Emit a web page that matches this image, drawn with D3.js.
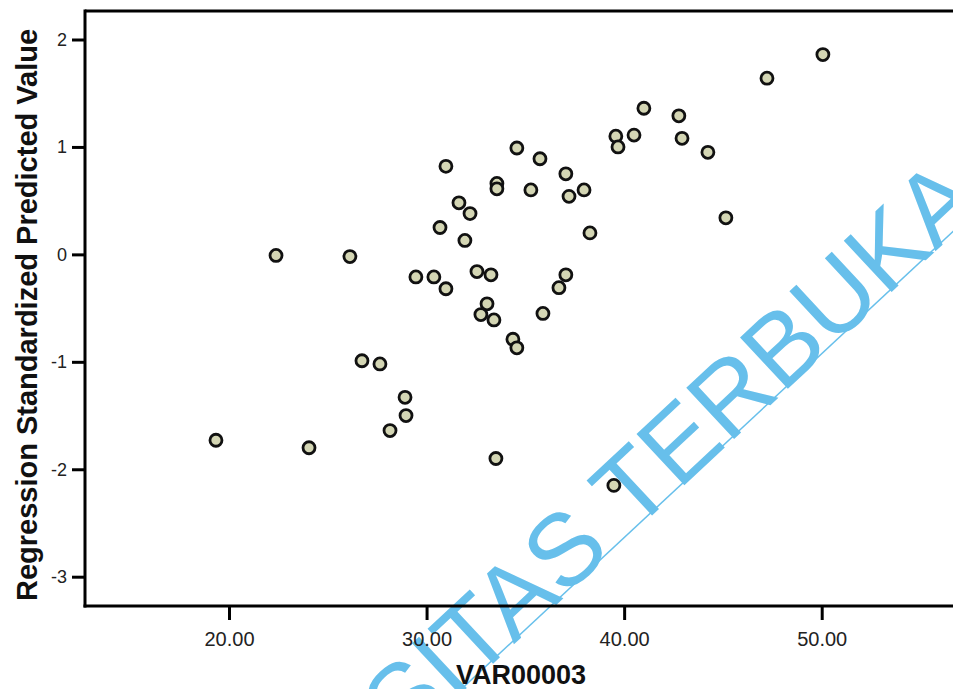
<!DOCTYPE html>
<html><head><meta charset="utf-8">
<script src="https://cdn.jsdelivr.net/npm/d3@7"></script>
<style>body{margin:0;background:#fff;} svg{display:block;}</style>
</head><body>
<script>
const xValues = [19.34,22.38,24.05,26.12,26.73,27.64,28.15,28.91,28.96,29.46,30.37,30.68,30.98,30.98,31.64,32.20,31.94,32.55,33.26,32.75,33.06,33.41,33.56,33.56,33.51,34.37,34.57,34.57,35.28,35.74,35.89,36.70,37.05,37.05,37.21,37.97,38.27,39.48,39.58,39.69,40.50,41.00,42.77,42.93,44.24,45.15,47.23,50.06];
const yValues = [-1.73,-0.01,-1.80,-0.02,-0.99,-1.02,-1.64,-1.33,-1.50,-0.21,-0.21,0.25,-0.32,0.82,0.48,0.38,0.13,-0.16,-0.19,-0.56,-0.46,-0.61,0.66,0.61,-1.90,-0.79,-0.87,0.99,0.60,0.89,-0.55,-0.31,-0.19,0.75,0.54,0.60,0.20,-2.15,1.10,1.00,1.11,1.36,1.29,1.08,0.95,0.34,1.64,1.86];
const xTicks = [20,30,40,50];
const yTicks = [-3,-2,-1,0,1,2];
const xTitle = "VAR00003";
const yTitle = "Regression Standardized Predicted Value";
const watermark = "UNIVERSITAS TERBUKA";

(function(){
const W = 953, H = 689;
const svg = d3.select("body").append("svg").attr("width", W).attr("height", H);
const pLeft = 85, pRight = 953, pTop = 11, pBottom = 606;
const x = d3.scaleLinear().domain([20, 50]).range([229, 821.7]);
const y = d3.scaleLinear().domain([-3, 2]).range([576.7, 39.5]);

const font = "'Liberation Sans', Arial, sans-serif";

// watermark
const wm = svg.append("g").attr("opacity", 0.85);
wm.append("text")
  .attr("transform", "translate(985,205) rotate(-43)")
  .attr("text-anchor", "end")
  .attr("font-family", font)
  .attr("font-size", 102)
  .attr("fill", "#4db5e8")
  .text(watermark);
wm.append("line")
  .attr("x1", 455).attr("y1", 695).attr("x2", 960).attr("y2", 225)
  .attr("stroke", "#4db5e8").attr("stroke-width", 1.5);

// frame
svg.append("line").attr("x1", pLeft).attr("x2", pRight + 2).attr("y1", pTop).attr("y2", pTop)
  .attr("stroke", "#000").attr("stroke-width", 3);

// y axis
const yAxis = d3.axisLeft(y).tickValues(yTicks).tickSize(13).tickPadding(5).tickFormat(d => String(d));
const gy = svg.append("g").attr("transform", `translate(${pLeft},0)`).call(yAxis);
gy.select(".domain").remove();
gy.selectAll(".tick line").attr("stroke", "#000").attr("stroke-width", 3);
gy.selectAll(".tick text").attr("font-family", font).attr("font-size", 18).attr("fill", "#222");
svg.append("line").attr("x1", pLeft).attr("x2", pLeft).attr("y1", pTop - 1.5).attr("y2", pBottom + 1.5)
  .attr("stroke", "#000").attr("stroke-width", 3);

// x axis
const xAxis = d3.axisBottom(x).tickValues(xTicks).tickSize(14).tickPadding(12).tickFormat(d3.format(".2f"));
const gx = svg.append("g").attr("transform", `translate(0,${pBottom})`).call(xAxis);
gx.select(".domain").remove();
gx.selectAll(".tick line").attr("stroke", "#000").attr("stroke-width", 3);
gx.selectAll(".tick text").attr("font-family", font).attr("font-size", 20).attr("fill", "#222");
svg.append("line").attr("x1", pLeft - 1.5).attr("x2", pRight + 2).attr("y1", pBottom).attr("y2", pBottom)
  .attr("stroke", "#000").attr("stroke-width", 3);

// points
svg.append("g").selectAll("circle")
  .data(xValues.map((v, i) => [v, yValues[i]]))
  .join("circle")
  .attr("cx", d => x(d[0])).attr("cy", d => y(d[1])).attr("r", 6)
  .attr("fill", "#d4d6b4").attr("stroke", "#111").attr("stroke-width", 2.8);

// titles
svg.append("text").attr("x", 521).attr("y", 684).attr("text-anchor", "middle")
  .attr("font-family", font).attr("font-weight", "bold").attr("font-size", 27).attr("fill", "#111")
  .text(xTitle);
svg.append("text").attr("transform", "translate(37,315) rotate(-90)").attr("text-anchor", "middle")
  .attr("font-family", font).attr("font-weight", "bold").attr("font-size", 29).attr("fill", "#111")
  .text(yTitle);
})();
</script>
</body></html>
